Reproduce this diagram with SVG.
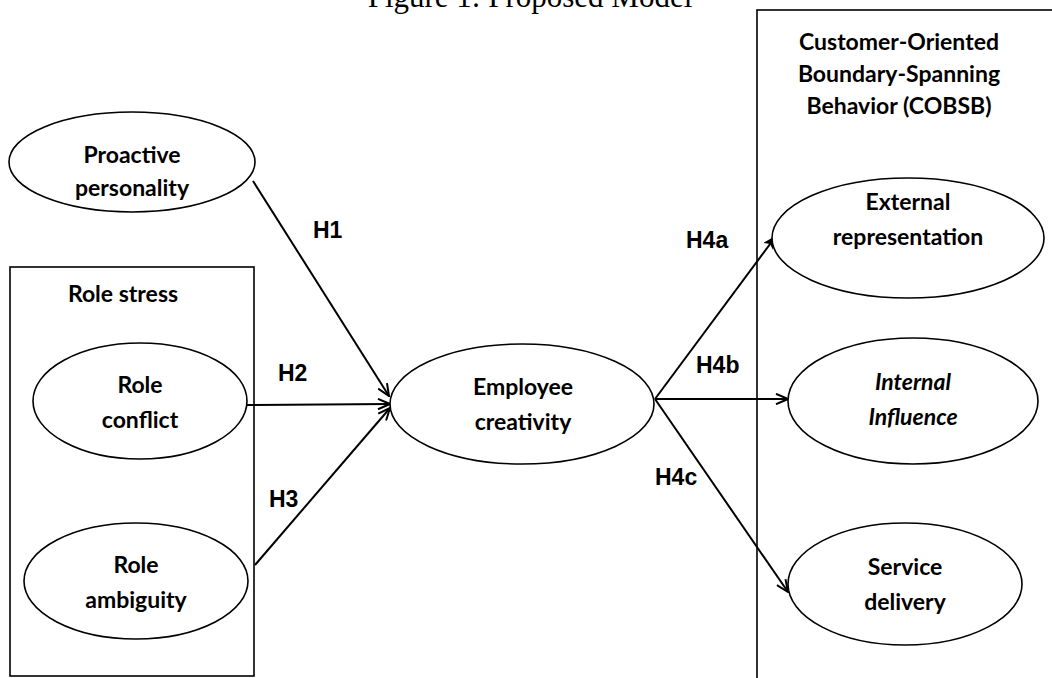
<svg xmlns="http://www.w3.org/2000/svg" width="1052" height="678" viewBox="0 0 1052 678">
<style>
.bg{fill:#fff}
.node{fill:#fff;stroke:#000;stroke-width:1.6}
.box{fill:none;stroke:#000;stroke-width:1.6}
.lbl{font-family:Lato,"Open Sans",sans-serif;font-weight:700;font-size:23px;fill:#000;text-anchor:middle}
.it{font-style:italic}
.h{font-family:"Liberation Sans",Arial,sans-serif;font-weight:700;font-size:23px;fill:#000}
.title{font-family:"Liberation Serif","Times New Roman",serif;font-size:31px;fill:#000;text-anchor:middle}
.edge{stroke:#000;stroke-width:2;fill:none}
</style>
<defs>
<marker id="open" viewBox="0 0 14 12" refX="13" refY="6" markerWidth="14" markerHeight="12" markerUnits="userSpaceOnUse" orient="auto">
<path d="M1,0.8 L13,6 L1,11.2" fill="none" stroke="#000" stroke-width="2"/>
</marker>
<marker id="solid" viewBox="0 0 14 12" refX="13" refY="6" markerWidth="14" markerHeight="12" markerUnits="userSpaceOnUse" orient="auto">
<path d="M0,0 L14,6 L0,12 L3,6 Z" fill="#000"/>
</marker>
</defs>
<rect class="bg" x="0" y="0" width="1052" height="678"/>
<text class="title" x="530" y="7">Figure 1: Proposed Model</text>
<g id="role-stress">
<rect class="box" x="10" y="267" width="244" height="409"/>
<text class="lbl" x="123" y="302">Role stress</text>
</g>
<g id="cobsb">
<rect class="box" x="757" y="10" width="400" height="700"/>
<text class="lbl" x="899" y="50">Customer-Oriented</text>
<text class="lbl" x="899" y="82">Boundary-Spanning</text>
<text class="lbl" x="899" y="114">Behavior (COBSB)</text>
</g>
<g id="connectors">
<line class="edge" x1="253" y1="181" x2="389" y2="396" marker-end="url(#open)"/>
<line class="edge" x1="247" y1="405" x2="390" y2="404" marker-end="url(#open)"/>
<line class="edge" x1="255" y1="565" x2="390" y2="408" marker-end="url(#open)"/>
<line class="edge" x1="655" y1="399" x2="776" y2="236" marker-end="url(#solid)"/>
<line class="edge" x1="655" y1="399" x2="788" y2="399" marker-end="url(#open)"/>
<line class="edge" x1="655" y1="399" x2="788" y2="592" marker-end="url(#open)"/>
<text class="h" x="313" y="238">H1</text>
<text class="h" x="278" y="381">H2</text>
<text class="h" x="269" y="507">H3</text>
<text class="h" x="686" y="248">H4a</text>
<text class="h" x="696" y="373">H4b</text>
<text class="h" x="655" y="485">H4c</text>
</g>
<g id="proactive">
<ellipse class="node" cx="132" cy="162" rx="123" ry="50"/>
<text class="lbl" x="132" y="163">Proactive</text>
<text class="lbl" x="132" y="196">personality</text>
</g>
<g id="role-conflict">
<ellipse class="node" cx="140" cy="401" rx="107" ry="58"/>
<text class="lbl" x="140" y="393">Role</text>
<text class="lbl" x="140" y="428">conflict</text>
</g>
<g id="role-ambiguity">
<ellipse class="node" cx="136" cy="581" rx="112" ry="58"/>
<text class="lbl" x="136" y="573">Role</text>
<text class="lbl" x="136" y="608">ambiguity</text>
</g>
<g id="employee-creativity">
<ellipse class="node" cx="522" cy="404" rx="132" ry="60"/>
<text class="lbl" x="523" y="395">Employee</text>
<text class="lbl" x="523" y="430">creativity</text>
</g>
<g id="external-representation">
<ellipse class="node" cx="908" cy="238" rx="136" ry="60"/>
<text class="lbl" x="908" y="210">External</text>
<text class="lbl" x="908" y="245">representation</text>
</g>
<g id="internal-influence">
<ellipse class="node" cx="913" cy="401" rx="125" ry="63"/>
<text class="lbl it" x="913" y="390">Internal</text>
<text class="lbl it" x="913" y="425">Influence</text>
</g>
<g id="service-delivery">
<ellipse class="node" cx="905" cy="584" rx="117" ry="61"/>
<text class="lbl" x="905" y="575">Service</text>
<text class="lbl" x="905" y="610">delivery</text>
</g>
</svg>
